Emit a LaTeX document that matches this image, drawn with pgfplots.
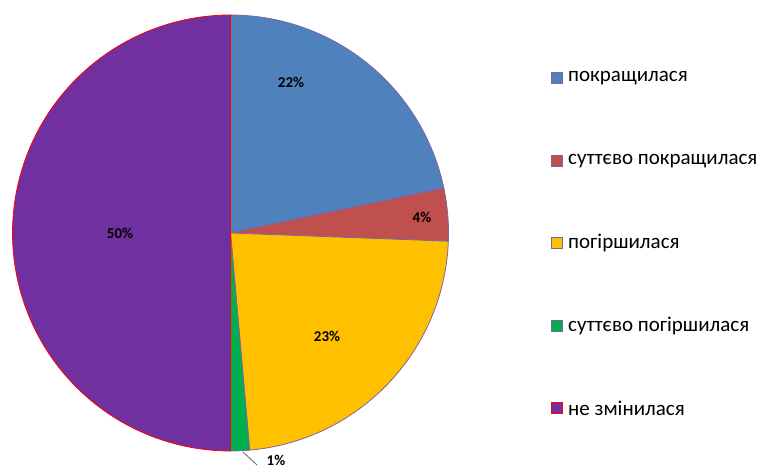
\documentclass[border=0pt]{standalone}
\usepackage{fontspec}
\setmainfont{Carlito}
\usepackage{pgfplots}
\usepackage{pgfplotstable}
\pgfplotsset{compat=1.18}

\definecolor{cBlue}{HTML}{4F81BD}
\definecolor{cRed}{HTML}{C0504D}
\definecolor{cYellow}{HTML}{FFC000}
\definecolor{cGreen}{HTML}{00B050}
\definecolor{cPurple}{HTML}{7030A0}
\definecolor{edgeP}{HTML}{8064A2}
\definecolor{edgeR}{HTML}{FF0000}

% shares, percent (clockwise from 12 o'clock)
\pgfplotstableread{
v
21.7
3.9
23.0
1.4
50.0
}\pietable

\begin{document}
\begin{tikzpicture}[
  lbl/.style={inner sep=1pt,font=\fontsize{15}{17}\selectfont\bfseries},
  leg/.style={anchor=west,inner sep=0pt,font=\fontsize{21}{25}\selectfont}]
\pgfplotstablegetelem{0}{v}\of\pietable \let\vA\pgfplotsretval
\pgfplotstablegetelem{1}{v}\of\pietable \let\vB\pgfplotsretval
\pgfplotstablegetelem{2}{v}\of\pietable \let\vC\pgfplotsretval
\pgfplotstablegetelem{3}{v}\of\pietable \let\vD\pgfplotsretval
\pgfplotstablegetelem{4}{v}\of\pietable \let\vE\pgfplotsretval
\pgfmathsetmacro\aA{90-3.6*\vA}
\pgfmathsetmacro\aB{\aA-3.6*\vB}
\pgfmathsetmacro\aC{\aB-3.6*\vC}
\pgfmathsetmacro\aD{\aC-3.6*\vD}
\pgfmathsetmacro\aE{\aD-3.6*\vE}
\pgfmathtruncatemacro\lA{round(\vA)}
\pgfmathtruncatemacro\lB{round(\vB)}
\pgfmathtruncatemacro\lC{round(\vC)}
\pgfmathtruncatemacro\lD{round(\vD)}
\pgfmathtruncatemacro\lE{round(\vE)}
\def\cx{230.5}\def\cy{237}\def\pieR{218}
\begin{axis}[x=1pt,y=1pt,xmin=0,xmax=757,ymin=0,ymax=470,
  scale only axis,hide axis,clip=false,
  every axis plot/.append style={line width=0.8pt,samples=90,variable=\t}]
\addplot[fill=cBlue,draw=edgeP,domain=\aA:90] ({\cx+\pieR*cos(\t)},{\cy+\pieR*sin(\t)}) -- (axis cs:\cx,\cy) -- cycle;
\addplot[fill=cRed,draw=edgeP,domain=\aB:\aA] ({\cx+\pieR*cos(\t)},{\cy+\pieR*sin(\t)}) -- (axis cs:\cx,\cy) -- cycle;
\addplot[fill=cYellow,draw=edgeP,domain=\aC:\aB] ({\cx+\pieR*cos(\t)},{\cy+\pieR*sin(\t)}) -- (axis cs:\cx,\cy) -- cycle;
\addplot[fill=cGreen,draw=edgeP,domain=\aD:\aC] ({\cx+\pieR*cos(\t)},{\cy+\pieR*sin(\t)}) -- (axis cs:\cx,\cy) -- cycle;
\addplot[fill=cPurple,draw=edgeR,domain=\aE:\aD] ({\cx+\pieR*cos(\t)},{\cy+\pieR*sin(\t)}) -- (axis cs:\cx,\cy) -- cycle;

% data labels
\node[lbl] at (axis cs:291,388) {\lA\%};
\node[lbl] at (axis cs:422,253) {\lB\%};
\node[lbl] at (axis cs:327,134) {\lC\%};
\node[lbl] at (axis cs:276,10) {\lD\%};
\node[lbl] at (axis cs:120,237) {\lE\%};
\draw[gray!80!black,line width=0.8pt] (axis cs:243,18) -- (axis cs:257,5);

% legend
\draw[fill=cBlue,draw=edgeP,line width=0.8pt] (axis cs:551.5,386.5) rectangle (axis cs:562.5,397.5);
\node[leg] at (axis cs:568,392) {покращилася};
\draw[fill=cRed,draw=edgeP,line width=0.8pt] (axis cs:551.5,303.5) rectangle (axis cs:562.5,314.5);
\node[leg] at (axis cs:568,309) {суттєво покращилася};
\draw[fill=cYellow,draw=edgeP,line width=0.8pt] (axis cs:551.5,221.5) rectangle (axis cs:562.5,232.5);
\node[leg] at (axis cs:568,227) {погіршилася};
\draw[fill=cGreen,draw=edgeP,line width=0.8pt] (axis cs:551.5,138.5) rectangle (axis cs:562.5,149.5);
\node[leg] at (axis cs:568,144) {суттєво погіршилася};
\draw[fill=cPurple,draw=edgeR,line width=0.8pt] (axis cs:551.5,56.5) rectangle (axis cs:562.5,67.5);
\node[leg] at (axis cs:568,62) {не змінилася};
\end{axis}
\pgfresetboundingbox
\path[use as bounding box] (current axis.south west) rectangle (current axis.north east);
\end{tikzpicture}
\end{document}
